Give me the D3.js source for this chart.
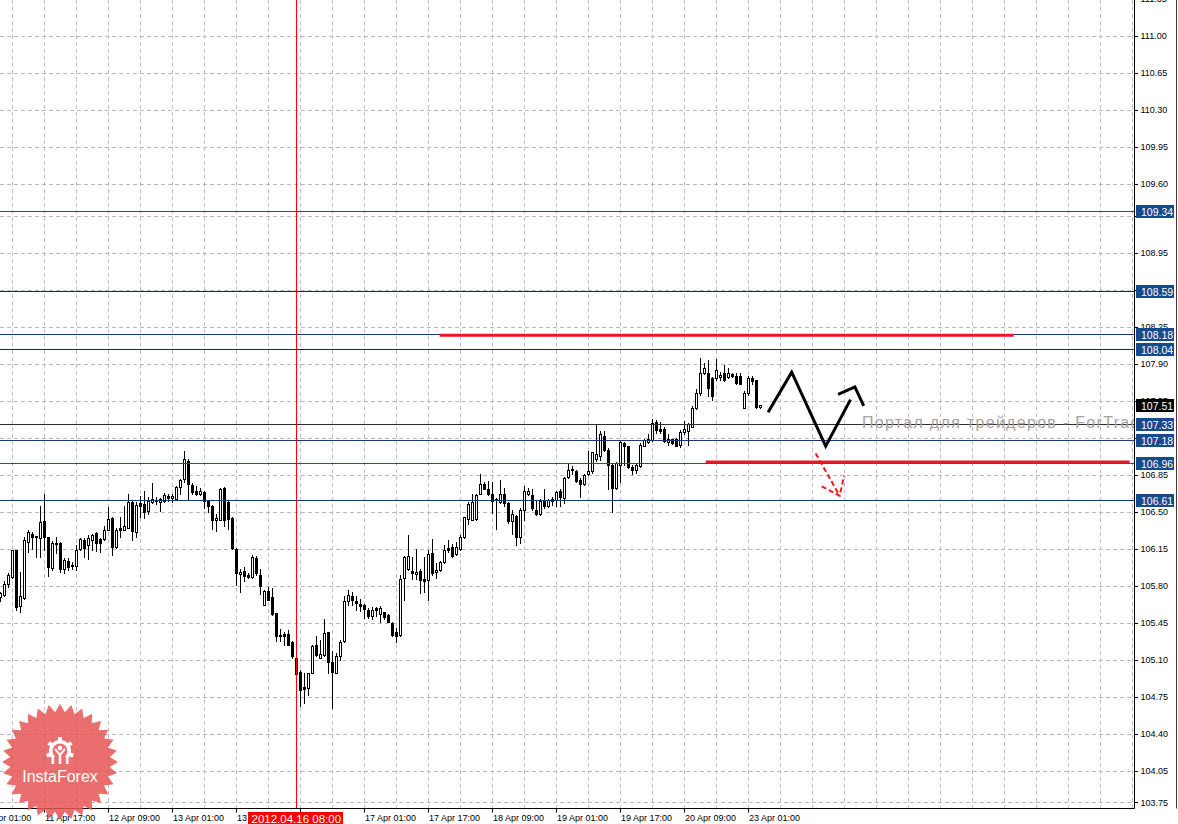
<!DOCTYPE html>
<html><head><meta charset="utf-8">
<script src="https://cdn.jsdelivr.net/npm/d3@7"></script>
<style>html,body{margin:0;padding:0;background:#fff;overflow:hidden}</style>
</head><body><svg id="c" width="1178" height="824"></svg>
<script>
// ---- data (EUR/JPY H1) ----
const opens = [105.69,105.71,105.82,105.88,106.14,105.61,105.68,106.21,106.29,106.27,106.25,106.41,106.26,105.97,106.20,106.20,105.96,106.03,106.00,105.99,
106.15,106.23,106.18,106.23,106.30,106.24,106.24,106.33,106.44,106.17,106.35,106.33,106.35,106.59,106.31,106.58,106.57,106.51,106.59,106.61,
106.59,106.60,106.65,106.63,106.62,106.73,106.81,106.98,106.75,106.70,106.67,106.69,106.60,106.55,106.42,106.42,106.72,106.59,106.44,106.15,
105.91,105.94,105.90,105.88,106.06,105.90,105.62,105.75,105.69,105.54,105.33,105.34,105.34,105.27,105.12,104.98,104.84,104.83,104.97,105.24,
105.12,105.14,105.36,105.08,104.97,105.13,105.28,105.65,105.70,105.65,105.63,105.62,105.57,105.51,105.59,105.53,105.55,105.52,105.45,105.36,
105.33,105.87,105.96,105.94,105.91,105.94,105.86,105.85,106.11,105.93,105.95,106.02,106.16,106.17,106.10,106.15,106.26,106.43,106.42,106.43,
106.67,106.76,106.71,106.67,106.62,106.59,106.67,106.58,106.41,106.46,106.26,106.52,106.67,106.66,106.52,106.48,106.60,106.55,106.60,106.61,
106.70,106.63,106.83,106.89,106.88,106.80,106.76,106.86,106.88,107.00,107.03,107.22,107.08,106.94,106.72,106.94,107.15,107.12,106.92,106.89,
106.93,107.12,107.16,107.18,107.35,107.28,107.28,107.16,107.19,107.19,107.13,107.25,107.26,107.30,107.48,107.62,107.81,107.81,107.76,107.76,
107.77,107.81,107.77,107.80,107.78,107.78,107.48,107.62,107.76,107.75,107.49];
const highs = [105.74,105.84,105.92,106.14,106.14,105.93,106.26,106.33,106.31,106.27,106.55,106.67,106.26,106.22,106.26,106.21,106.06,106.06,106.02,106.18,
106.25,106.25,106.28,106.29,106.31,106.25,106.36,106.54,106.45,106.35,106.45,106.55,106.67,106.61,106.59,106.65,106.70,106.64,106.77,106.64,
106.63,106.68,106.67,106.67,106.74,106.81,107.07,107.00,106.77,106.74,106.72,106.70,106.61,106.56,106.48,106.72,106.73,106.61,106.45,106.16,
105.96,105.98,105.92,106.09,106.08,105.96,105.76,105.79,105.78,105.54,105.39,105.36,105.38,105.28,105.14,105.00,104.97,104.97,105.24,105.32,
105.29,105.48,105.36,105.18,105.16,105.29,105.70,105.76,105.74,105.70,105.67,105.63,105.59,105.60,105.60,105.61,105.55,105.53,105.46,105.40,
105.90,106.08,106.28,106.07,106.15,105.96,106.07,106.14,106.24,106.01,106.03,106.18,106.23,106.19,106.21,106.28,106.45,106.59,106.67,106.67,
106.86,106.78,106.79,106.78,106.63,106.80,106.72,106.59,106.52,106.47,106.53,106.74,106.72,106.71,106.61,106.62,106.71,106.62,106.64,106.70,
106.71,106.83,106.96,106.93,106.89,106.82,106.86,107.07,107.06,107.32,107.26,107.26,107.10,106.96,106.97,107.18,107.16,107.12,106.94,106.96,
107.15,107.19,107.23,107.38,107.37,107.35,107.30,107.23,107.19,107.20,107.27,107.36,107.34,107.50,107.66,107.95,107.91,107.93,107.77,107.94,
107.82,107.89,107.86,107.81,107.81,107.81,107.64,107.78,107.78,107.75,107.51];
const lows = [105.65,105.70,105.79,105.87,105.57,105.55,105.67,106.12,106.15,106.07,106.07,106.14,105.89,105.95,106.11,105.93,105.92,105.95,105.96,105.95,
106.14,106.07,106.05,106.14,106.13,106.12,106.23,106.33,106.09,106.16,106.26,106.33,106.35,106.23,106.26,106.45,106.44,106.48,106.58,106.57,
106.51,106.59,106.60,106.59,106.61,106.67,106.78,106.61,106.67,106.66,106.66,106.53,106.50,106.34,106.32,106.42,106.36,106.34,106.15,105.81,
105.74,105.84,105.87,105.87,105.90,105.72,105.62,105.66,105.52,105.28,105.28,105.24,105.24,105.12,104.95,104.66,104.69,104.77,104.97,105.13,
105.12,105.13,104.97,104.64,104.97,105.10,105.27,105.62,105.62,105.57,105.56,105.49,105.49,105.48,105.51,105.46,105.48,105.46,105.32,105.27,
105.32,105.66,105.95,105.86,105.86,105.73,105.74,105.66,105.90,105.87,105.94,106.01,106.12,106.07,106.09,106.14,106.25,106.38,106.42,106.42,
106.67,106.71,106.66,106.49,106.34,106.58,106.55,106.39,106.29,106.18,106.20,106.42,106.66,106.52,106.47,106.47,106.53,106.54,106.56,106.55,
106.55,106.58,106.82,106.86,106.78,106.64,106.75,106.85,106.87,106.98,106.99,107.07,106.71,106.50,106.71,106.78,106.94,106.91,106.86,106.87,
106.92,107.12,107.15,107.17,107.24,107.24,107.16,107.13,107.14,107.12,107.11,107.23,107.13,107.30,107.47,107.60,107.80,107.59,107.56,107.75,
107.75,107.74,107.76,107.77,107.71,107.71,107.48,107.60,107.71,107.48,107.48];
const closes = [105.73,105.82,105.90,106.14,105.60,105.70,106.23,106.31,106.26,106.26,106.40,106.26,105.98,106.20,106.19,105.96,106.04,105.98,105.99,106.14,
106.24,106.16,106.25,106.28,106.20,106.20,106.33,106.43,106.17,106.33,106.33,106.36,106.59,106.32,106.56,106.55,106.50,106.60,106.62,106.60,
106.62,106.66,106.63,106.65,106.73,106.80,107.00,106.76,106.69,106.67,106.70,106.60,106.55,106.42,106.44,106.71,106.42,106.43,106.16,105.92,
105.93,105.89,105.88,106.07,105.92,105.80,105.75,105.66,105.53,105.32,105.32,105.32,105.24,105.13,104.96,104.81,104.82,104.97,105.23,105.14,
105.15,105.35,105.08,104.98,105.13,105.27,105.65,105.71,105.66,105.64,105.61,105.58,105.51,105.57,105.57,105.59,105.50,105.46,105.33,105.32,
105.86,106.07,106.08,105.92,105.93,105.85,105.84,106.10,105.92,105.95,106.02,106.14,106.14,106.08,106.17,106.26,106.45,106.57,106.59,106.66,
106.76,106.71,106.67,106.60,106.61,106.67,106.58,106.41,106.48,106.26,106.52,106.70,106.70,106.53,106.48,106.60,106.55,106.61,106.62,106.69,
106.64,106.82,106.89,106.90,106.79,106.76,106.85,106.88,107.06,107.05,107.23,107.08,106.94,106.72,106.96,107.16,107.12,106.92,106.89,106.94,
107.13,107.18,107.19,107.34,107.27,107.26,107.17,107.19,107.15,107.12,107.25,107.28,107.33,107.48,107.62,107.81,107.86,107.67,107.59,107.84,
107.79,107.75,107.81,107.78,107.72,107.71,107.62,107.76,107.74,107.49,107.51];

// grid levels (all) and the tick labels that stay visible
const priceTicks = [111.35,111.00,110.65,110.30,109.95,109.60,109.30,108.95,108.60,108.25,107.90,107.55,107.20,106.85,106.50,106.15,105.80,105.45,105.10,104.75,104.40,104.05,103.75];
const priceTickLabels = [111.35,111.00,110.65,110.30,109.95,109.60,108.95,108.25,107.90,107.55,106.85,106.50,106.15,105.80,105.45,105.10,104.75,104.40,104.05,103.75];
const timeTickIdx = [-5,11,27,43,59,75,91,107,123,139,155,171,187];
const timeTickLabels = ["11 Apr 01:00","11 Apr 17:00","12 Apr 09:00","13 Apr 01:00","13",null,"17 Apr 01:00","17 Apr 17:00","18 Apr 09:00","19 Apr 01:00","19 Apr 17:00","20 Apr 09:00","23 Apr 01:00"];
const levelPrices = [109.34,108.59,108.18,108.04,107.33,107.18,106.96,106.61];
const currentPrice = 107.51;
const markerIdx = 74;
const markerLabel = "2012.04.16 08:00";
// annotations in (bar index, price)
const redLevels = [[[109.8,108.17],[253.3,108.17]],[[176.3,106.97],[282.3,106.97]]];
const zigzag1 = [[191.9,107.44],[197.8,107.82],[206.3,107.12],[212.5,107.56]];
const zigzag2 = [[209.4,107.61],[213.6,107.68],[215.8,107.50]];
const arrowShaft = [[203.8,107.05],[209.8,106.65]];
const arrowHead = [[205.3,106.74],[209.8,106.65],[210.9,106.84]];
const watermark = "Портал для трейдеров - ForTrader.ru";

// ---- styles / layout ----
const plotR = 1134.5, plotB = 808.5;
const levelColors = ["#1d4f9c","#1c2a3e","#183a72","#1c2a3e","#2a2f38","#183a72","#1d4f9c","#183a72"];
const font = "'Liberation Sans', Arial, sans-serif";

const svg = d3.select("#c");
const x = d3.scaleLinear().domain([0, 1]).range([0.5, 4.5]);
const y = d3.scaleLinear().domain([103.75, 111]).range([36 + 7.25*105.7, 36]);
const cy = v => Math.round(y(v)) + 0.5;

// grid
const gGrid = svg.append("g");
const vIdx = d3.range(3, 284, 8);
gGrid.selectAll("line.v").data(vIdx).join("line")
  .attr("x1", d => x(d)).attr("x2", d => x(d)).attr("y1", 0).attr("y2", plotB)
  .attr("stroke", "#c6bacf").attr("stroke-dasharray", "4,3");
gGrid.selectAll("line.h").data(priceTicks).join("line")
  .attr("x1", 0).attr("x2", plotR).attr("y1", d => cy(d)).attr("y2", d => cy(d))
  .attr("stroke", "#b6bab2").attr("stroke-dasharray", "4,3");

// candles
const data = opens.map((o, i) => ({i, o, h: highs[i], l: lows[i], c: closes[i]}));
const gC = svg.append("g");
gC.selectAll("line.w").data(data).join("line")
  .attr("x1", d => x(d.i)).attr("x2", d => x(d.i))
  .attr("y1", d => Math.round(y(d.h))).attr("y2", d => Math.round(y(d.l)) + 1)
  .attr("stroke", "#000");
gC.selectAll("rect").data(data).join("rect")
  .attr("x", d => x(d.i) - 1)
  .attr("y", d => Math.round(y(Math.max(d.o, d.c))) + 0.5)
  .attr("width", 2)
  .attr("height", d => Math.max(0, Math.round(y(Math.min(d.o, d.c))) - Math.round(y(Math.max(d.o, d.c)))))
  .attr("fill", d => d.c >= d.o ? "#fff" : "#000")
  .attr("stroke", "#000").attr("stroke-width", 1);

// level lines
svg.append("g").selectAll("line").data(levelPrices).join("line")
  .attr("x1", 0).attr("x2", plotR).attr("y1", d => cy(d)).attr("y2", d => cy(d))
  .attr("stroke", (d, i) => levelColors[i]).attr("stroke-width", 1);

// marker vertical line
svg.append("line").attr("x1", x(markerIdx)).attr("x2", x(markerIdx)).attr("y1", 0).attr("y2", plotB)
  .attr("stroke", "#ff0000").attr("stroke-width", 1);

// annotations
const line = d3.line().x(d => x(d[0])).y(d => y(d[1]));
svg.append("g").selectAll("path").data(redLevels).join("path")
  .attr("d", line).attr("stroke", "#f0161e").attr("stroke-width", 3).attr("fill", "none");
svg.append("path").attr("d", line(zigzag1)).attr("stroke", "#000").attr("stroke-width", 3).attr("fill", "none").attr("stroke-linejoin", "miter");
svg.append("path").attr("d", line(zigzag2)).attr("stroke", "#000").attr("stroke-width", 3).attr("fill", "none").attr("stroke-linejoin", "miter");
svg.append("path").attr("d", line(arrowShaft)).attr("stroke", "#f0161e").attr("stroke-width", 2).attr("stroke-dasharray", "5,3").attr("fill", "none");
svg.append("path").attr("d", line(arrowHead)).attr("stroke", "#f0161e").attr("stroke-width", 2).attr("stroke-dasharray", "5,3").attr("fill", "none");

// watermark (clipped to plot)
svg.append("clipPath").attr("id", "plotclip").append("rect").attr("x", 0).attr("y", 0).attr("width", plotR).attr("height", plotB);
svg.append("text").attr("x", 862).attr("y", 428).text(watermark).attr("clip-path", "url(#plotclip)")
  .attr("font-family", font).attr("font-size", 16).attr("letter-spacing", 1.3).attr("fill", "#aaa0a0");

// axes
svg.append("line").attr("x1", plotR).attr("x2", plotR).attr("y1", 0).attr("y2", plotB).attr("stroke", "#000");
svg.append("line").attr("x1", 0).attr("x2", plotR).attr("y1", plotB).attr("y2", plotB).attr("stroke", "#000");
svg.append("line").attr("x1", 1176.5).attr("x2", 1176.5).attr("y1", 0).attr("y2", plotB).attr("stroke", "#3a3a3a");

const gY = svg.append("g");
gY.selectAll("line").data(priceTicks).join("line")
  .attr("x1", plotR).attr("x2", plotR + 3.5).attr("y1", d => cy(d)).attr("y2", d => cy(d)).attr("stroke", "#000");
gY.selectAll("text").data(priceTickLabels).join("text")
  .attr("x", 1140.5).attr("y", d => y(d) + 3.3).text(d => d.toFixed(2))
  .attr("font-family", font).attr("font-size", 9).attr("fill", "#000");

const gX = svg.append("g");
gX.selectAll("line").data(timeTickIdx).join("line")
  .attr("x1", d => x(d)).attr("x2", d => x(d)).attr("y1", plotB).attr("y2", plotB + 4).attr("stroke", "#000");
gX.selectAll("text").data(timeTickIdx.map((d, i) => ({d, t: timeTickLabels[i]})).filter(e => e.t)).join("text")
  .attr("x", e => x(e.d) + 0.5).attr("y", 820.5).text(e => e.t)
  .attr("font-family", font).attr("font-size", 9).attr("fill", "#000");

// price labels
const gL = svg.append("g");
const labs = levelPrices.map(p => ({p, bg: "#174a8b"})).concat([{p: currentPrice, bg: "#000"}]);
gL.selectAll("rect").data(labs).join("rect")
  .attr("x", 1136).attr("y", d => Math.round(y(d.p)) - 6).attr("width", 38).attr("height", 13)
  .attr("fill", d => d.bg);
gL.selectAll("text").data(labs).join("text")
  .attr("x", 1141).attr("y", d => Math.round(y(d.p)) + 4.5).text(d => d.p.toFixed(2))
  .attr("font-family", font).attr("font-size", 10.5).attr("fill", "#fff");

// marker time label
svg.append("rect").attr("x", 248).attr("y", 812).attr("width", 95).attr("height", 12).attr("fill", "#ff0000");
svg.append("text").attr("x", 251.5).attr("y", 823).text(markerLabel)
  .attr("font-family", font).attr("font-size", 11.5).attr("fill", "#fff");

// logo
const logo = svg.append("g").attr("transform", "translate(60,762)");
const nPts = 32, R = 58, r = 50;
const starPts = d3.range(nPts * 2).map(j => {
  const a = j * Math.PI / nPts - Math.PI / 2;
  const rr = j % 2 === 0 ? R : r;
  return [rr * Math.cos(a), rr * Math.sin(a)];
});
logo.append("path").attr("d", "M" + starPts.join("L") + "Z").attr("fill", "#e65656").attr("fill-opacity", 0.86);
const icon = logo.append("g").attr("transform", "translate(0,-11)");
icon.append("path").attr("d", d3.arc().innerRadius(7.5).outerRadius(11).startAngle(-2.4).endAngle(2.4)())
  .attr("fill", "#fff");
d3.range(-2, 3).forEach(t => {
  const a = t * 0.95;
  icon.append("rect").attr("x", -2).attr("y", -14).attr("width", 4).attr("height", 4)
    .attr("transform", `rotate(${a * 180 / Math.PI})`).attr("fill", "#fff");
});
icon.append("circle").attr("cx", 0).attr("cy", -3).attr("r", 2.2).attr("fill", "#fff");
icon.append("path").attr("d", "M-5,-2 L0,4 L5,-2").attr("stroke", "#fff").attr("stroke-width", 2).attr("fill", "none");
icon.append("rect").attr("x", -1.2).attr("y", 3).attr("width", 2.4).attr("height", 10).attr("fill", "#fff");
icon.append("rect").attr("x", -8.5).attr("y", 6).attr("width", 2.6).attr("height", 7).attr("fill", "#fff");
icon.append("rect").attr("x", 5.9).attr("y", 6).attr("width", 2.6).attr("height", 7).attr("fill", "#fff");
logo.append("text").attr("x", 0).attr("y", 20).attr("text-anchor", "middle").text("InstaForex")
  .attr("font-family", font).attr("font-size", 16).attr("fill", "#fff");
</script></body></html>
